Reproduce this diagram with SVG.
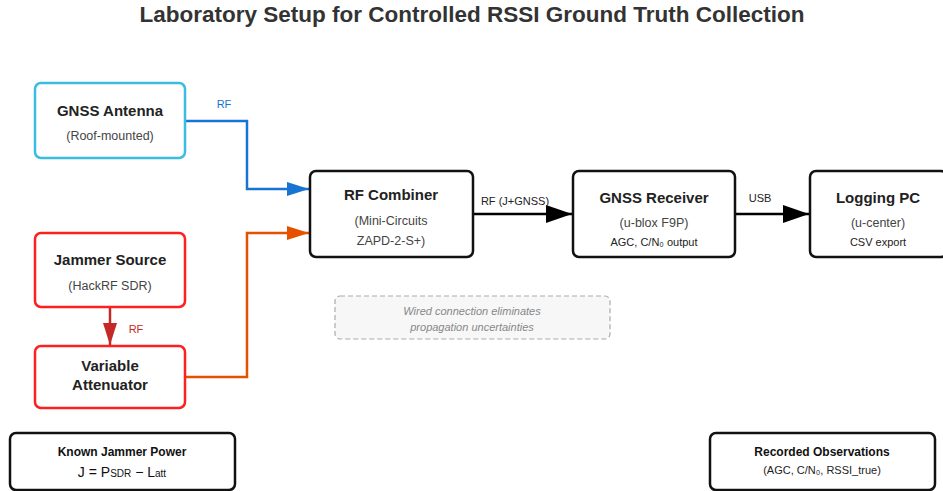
<svg xmlns="http://www.w3.org/2000/svg" width="943" height="491" viewBox="0 0 943 491">
  <style>
    text { font-family: "Liberation Sans", Arial, sans-serif; text-anchor: middle; }
    .title { font-size: 22.5px; font-weight: bold; fill: #333; }
    .box { fill: #fff; stroke-width: 2.5; }
    .k { stroke: #111; }
    .h { font-size: 15px; font-weight: bold; fill: #222; }
    .s { font-size: 12.5px; fill: #444; }
    .xs { font-size: 11px; fill: #222; }
    .lbl { font-size: 11px; fill: #222; }
    .note { font-size: 11px; font-style: italic; fill: #888; }
    .wire { fill: none; stroke-width: 2.5; }
  </style>
  <defs>
    <marker id="ah-blue" markerUnits="userSpaceOnUse" markerWidth="22" markerHeight="14" refX="22" refY="7" orient="auto">
      <path d="M0,0 L22,7 L0,14 Z" fill="#1874d2"/>
    </marker>
    <marker id="ah-orange" markerUnits="userSpaceOnUse" markerWidth="22" markerHeight="14" refX="22" refY="7" orient="auto">
      <path d="M0,0 L22,7 L0,14 Z" fill="#e65100"/>
    </marker>
    <marker id="ah-red" markerUnits="userSpaceOnUse" markerWidth="22" markerHeight="14" refX="22" refY="7" orient="auto">
      <path d="M0,0 L22,7 L0,14 Z" fill="#c62828"/>
    </marker>
    <marker id="ah-black" markerUnits="userSpaceOnUse" markerWidth="26" markerHeight="18" refX="26" refY="9" orient="auto">
      <path d="M0,0 L26,9 L0,18 Z" fill="#000"/>
    </marker>
  </defs>

  <text class="title" x="472" y="22">Laboratory Setup for Controlled RSSI Ground Truth Collection</text>

  <g id="connectors">
    <path class="wire" d="M185,121 H247 V189 H309" stroke="#1874d2" marker-end="url(#ah-blue)"/>
    <text x="224" y="108" style="font-size:11px;fill:#1874d2">RF</text>
    <path class="wire" d="M185,377 H247 V233 H309" stroke="#e65100" marker-end="url(#ah-orange)"/>
    <path class="wire" d="M110,307 V345" stroke="#c62828" marker-end="url(#ah-red)"/>
    <text x="136" y="333" style="font-size:11px;fill:#c62828">RF</text>
    <path class="wire" d="M473,214 H572" stroke="#000" marker-end="url(#ah-black)"/>
    <text class="lbl" x="515" y="205">RF (J+GNSS)</text>
    <path class="wire" d="M735,214 H809" stroke="#000" marker-end="url(#ah-black)"/>
    <text class="lbl" x="760" y="202">USB</text>
  </g>

  <g id="gnss-antenna">
    <rect class="box" x="35" y="83" width="150" height="75" rx="6" stroke="#3bbde0"/>
    <text class="h" x="110" y="116">GNSS Antenna</text>
    <text class="s" x="110" y="140">(Roof-mounted)</text>
  </g>

  <g id="jammer-source">
    <rect class="box" x="35" y="233" width="150" height="74" rx="6" stroke="#ff1f1f"/>
    <text class="h" x="110" y="265">Jammer Source</text>
    <text class="s" x="110" y="290">(HackRF SDR)</text>
  </g>

  <g id="variable-attenuator">
    <rect class="box" x="35" y="346" width="150" height="62" rx="6" stroke="#ff1f1f"/>
    <text class="h" x="110" y="371">Variable</text>
    <text class="h" x="110" y="390">Attenuator</text>
  </g>

  <g id="rf-combiner">
    <rect class="box k" x="310" y="171" width="163" height="86" rx="6"/>
    <text class="h" x="391" y="200">RF Combiner</text>
    <text class="s" x="391" y="225">(Mini-Circuits</text>
    <text class="s" x="391" y="245">ZAPD-2-S+)</text>
  </g>

  <g id="gnss-receiver">
    <rect class="box k" x="573" y="171" width="162" height="86" rx="6"/>
    <text class="h" x="654" y="203">GNSS Receiver</text>
    <text class="s" x="654" y="227">(u-blox F9P)</text>
    <text class="xs" x="654" y="246">AGC, C/N₀ output</text>
  </g>

  <g id="logging-pc">
    <rect class="box k" x="810" y="171" width="137" height="86" rx="6"/>
    <text class="h" x="878" y="203">Logging PC</text>
    <text class="s" x="878" y="227">(u-center)</text>
    <text class="xs" x="878" y="246">CSV export</text>
  </g>

  <g id="wired-note">
    <rect x="335" y="296" width="275" height="43" rx="5" fill="#f7f7f7" stroke="#aaa" stroke-width="1.2" stroke-dasharray="5,3"/>
    <text class="note" x="472" y="315">Wired connection eliminates</text>
    <text class="note" x="472" y="331">propagation uncertainties</text>
  </g>

  <g id="known-jammer-power">
    <rect class="box k" x="10" y="433" width="225" height="57" rx="6" stroke-width="2"/>
    <text x="122" y="456" style="font-size:12px;font-weight:bold;fill:#111">Known Jammer Power</text>
    <text x="122" y="477" style="font-size:14px;fill:#111">J = P<tspan style="font-size:10px">SDR</tspan> − L<tspan style="font-size:10px">att</tspan></text>
  </g>

  <g id="recorded-observations">
    <rect class="box k" x="710" y="433" width="225" height="57" rx="6" stroke-width="2"/>
    <text x="822" y="456" style="font-size:12px;font-weight:bold;fill:#111">Recorded Observations</text>
    <text x="822" y="474" style="font-size:11px;fill:#222">(AGC, C/N₀, RSSI_true)</text>
  </g>
</svg>
